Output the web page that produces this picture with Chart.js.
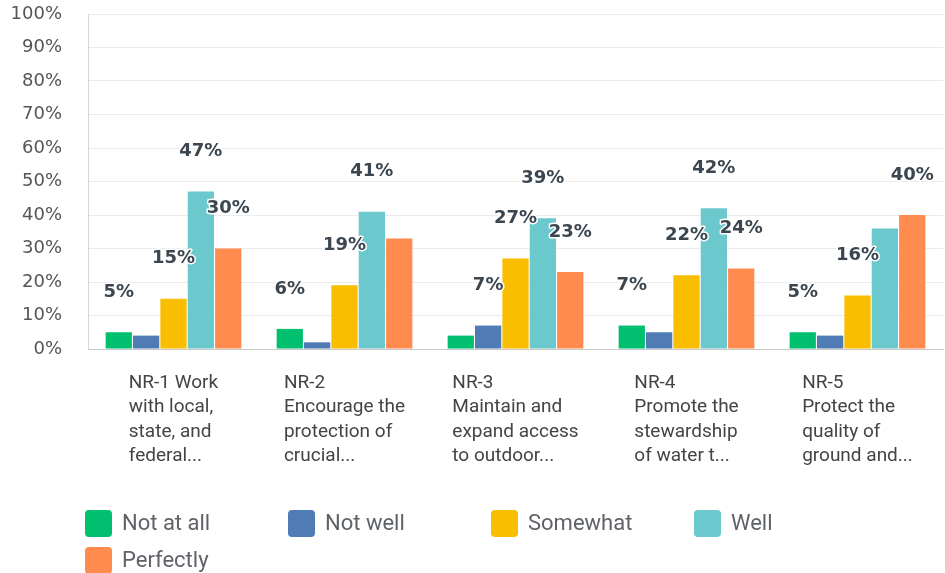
<!DOCTYPE html>
<html>
<head>
<meta charset="utf-8">
<script src="https://cdn.jsdelivr.net/npm/chart.js@4.4.0/dist/chart.umd.min.js"></script>
<style>
  html, body { margin: 0; padding: 0; background: #fff; }
  #wrap { width: 945px; height: 573px; position: relative; }
</style>
</head>
<body>
<div id="wrap"><canvas id="chart"></canvas></div>
<script>
// Data
const categories = [
  ["NR-1 Work", "with local,", "state, and", "federal..."],
  ["NR-2", "Encourage the", "protection of", "crucial..."],
  ["NR-3", "Maintain and", "expand access", "to outdoor..."],
  ["NR-4", "Promote the", "stewardship", "of water t..."],
  ["NR-5", "Protect the", "quality of", "ground and..."]
];
const seriesNames = ["Not at all", "Not well", "Somewhat", "Well", "Perfectly"];
const notAtAll = [5, 6, 4, 7, 5];
const notWell = [4, 2, 7, 5, 4];
const somewhat = [15, 19, 27, 22, 16];
const well = [47, 41, 39, 42, 36];
const perfectly = [30, 33, 23, 24, 40];
const seriesColors = ["#00bf6f", "#507cb6", "#f9be00", "#6bc8cd", "#ff8b4f"];

const X_FONT = '19px Roboto';
const LABEL_FONT = 'bold 18px "DejaVu Sans"';
const LEGEND_FONT = '22px Roboto';

// value labels sit above the bars; smaller ones that collide are dropped
const valueLabels = {
  id: 'valueLabels',
  afterDatasetsDraw(chart) {
    const ctx = chart.ctx;
    ctx.save();
    ctx.font = LABEL_FONT;
    ctx.textAlign = 'center';
    ctx.textBaseline = 'middle';
    const items = [];
    chart.data.datasets.forEach((ds, di) => {
      chart.getDatasetMeta(di).data.forEach((bar, i) => {
        const text = ds.data[i] + '%';
        items.push({ v: ds.data[i], text, x: bar.x, y: bar.y - 40, w: ctx.measureText(text).width });
      });
    });
    items.sort((a, b) => b.v - a.v);
    const placed = [];
    items.forEach(it => {
      const box = { l: it.x - it.w / 2 - 2, r: it.x + it.w / 2 + 2, t: it.y - 17, b: it.y + 17 };
      if (placed.some(p => box.l < p.r && box.r > p.l && box.t < p.b && box.b > p.t)) return;
      placed.push(box);
      ctx.lineWidth = 3;
      ctx.strokeStyle = '#fff';
      ctx.lineJoin = 'round';
      ctx.strokeText(it.text, it.x, it.y);
      ctx.fillStyle = '#3b4650';
      ctx.fillText(it.text, it.x, it.y);
    });
    ctx.restore();
  }
};

// category labels: block centred under the group, lines left aligned
const categoryLabels = {
  id: 'categoryLabels',
  afterDraw(chart) {
    const ctx = chart.ctx;
    const xs = chart.scales.x;
    ctx.save();
    ctx.font = X_FONT;
    ctx.fillStyle = '#444';
    ctx.textAlign = 'left';
    ctx.textBaseline = 'middle';
    chart.data.labels.forEach((lines, i) => {
      const w = Math.max(...lines.map(l => ctx.measureText(l).width));
      const left = xs.getPixelForValue(i) - w / 2;
      lines.forEach((line, k) => {
        ctx.fillText(line, left, chart.chartArea.bottom + 34 + k * 24.5);
      });
    });
    ctx.restore();
  }
};

// legend in fixed columns like the reference
const gridLegend = {
  id: 'gridLegend',
  afterDraw(chart) {
    const ctx = chart.ctx;
    ctx.save();
    ctx.font = LEGEND_FONT;
    ctx.textBaseline = 'middle';
    chart.data.datasets.forEach((ds, i) => {
      const col = i % 4, row = Math.floor(i / 4);
      const x = 85 + col * 203;
      const y = 523 + row * 37;
      ctx.fillStyle = ds.backgroundColor;
      ctx.beginPath();
      ctx.roundRect(x, y - 13, 27, 27, 4);
      ctx.fill();
      ctx.fillStyle = '#5f6368';
      ctx.fillText(ds.label, x + 37, y + 1);
    });
    ctx.restore();
  }
};

const seriesData = [notAtAll, notWell, somewhat, well, perfectly];

new Chart(document.getElementById('chart'), {
  type: 'bar',
  data: {
    labels: categories,
    datasets: seriesNames.map((name, i) => ({
      label: name,
      data: seriesData[i],
      backgroundColor: seriesColors[i],
      borderWidth: 0,
      barPercentage: 0.96,
      categoryPercentage: 0.8
    }))
  },
  options: {
    responsive: true,
    maintainAspectRatio: false,
    animation: false,
    layout: { padding: { top: 14, right: 2, bottom: 104, left: 0 } },
    plugins: {
      legend: { display: false },
      tooltip: { enabled: false }
    },
    scales: {
      x: {
        grid: { display: false },
        border: { display: true, color: '#c8c8c8', width: 1 },
        ticks: { display: false },
        afterFit: s => { s.height = 120; }
      },
      y: {
        min: 0,
        max: 100,
        grid: { color: '#ebebeb', drawTicks: true, tickLength: 24, tickColor: 'rgba(0,0,0,0)' },
        border: { display: true, color: '#d6d6d6' },
        afterFit: s => { s.width = 88; },
        ticks: {
          stepSize: 10,
          padding: 2,
          color: '#555',
          font: { family: 'DejaVu Sans', size: 18 },
          callback: v => v + '%'
        }
      }
    }
  },
  plugins: [valueLabels, categoryLabels, gridLegend]
});
</script>
</body>
</html>
